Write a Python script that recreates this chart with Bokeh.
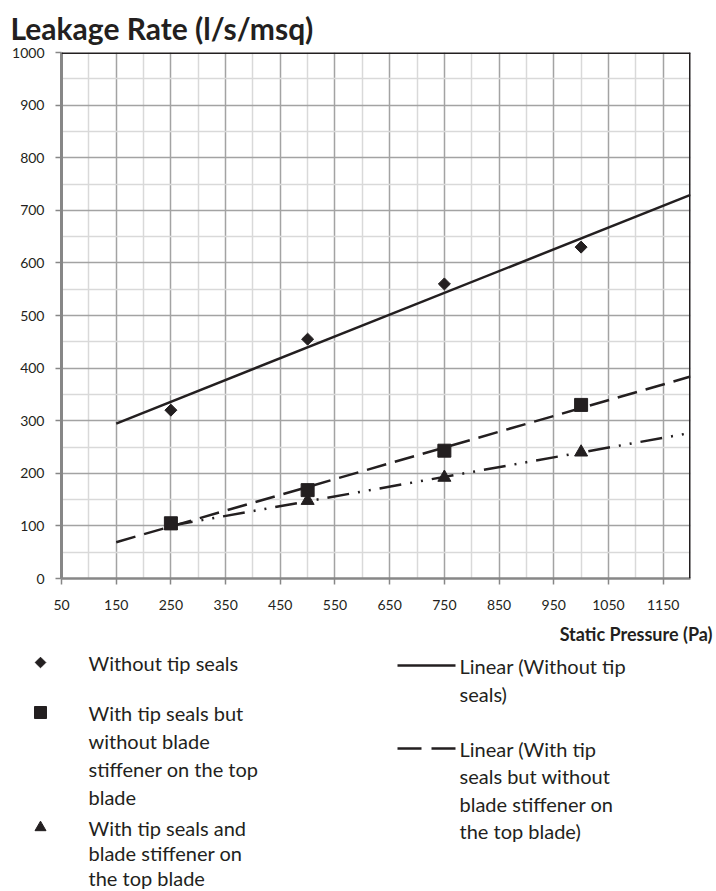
import numpy as np
from bokeh.plotting import figure
from bokeh.models import FixedTicker, Range1d, Span
from bokeh.embed import file_html
from bokeh.resources import INLINE
from bokeh.core.properties import value

# ---------------- data ----------------
pressure = [250, 500, 750, 1000]
without_tip_seals = [320, 455, 560, 630]
tip_seals_no_stiffener = [105, 168, 243, 330]
tip_seals_with_stiffener = [100, 148, 192, 240]

trend_start = [150, 150, 250]   # start of each linear trend (Pa)
trend_end = 1200                 # end of each linear trend (Pa)

x_ticks = [50, 150, 250, 350, 450, 550, 650, 750, 850, 950, 1050, 1150]
x_minor = [100, 200, 300, 400, 500, 600, 700, 800, 900, 1000, 1100, 1200]
y_ticks = [0, 100, 200, 300, 400, 500, 600, 700, 800, 900, 1000]
y_minor = [50, 150, 250, 350, 450, 550, 650, 750, 850, 950]

title_text = "Leakage Rate (l/s/msq)"
x_title = "Static Pressure (Pa)"
legend_points = [
    ["Without tip seals"],
    ["With tip seals but", "without blade", "stiffener on the top", "blade"],
    ["With tip seals and", "blade stiffener on", "the top blade"],
]
legend_lines = [
    ["Linear (Without tip", "seals)"],
    ["Linear (With tip", "seals but without", "blade stiffener on", "the top blade)"],
]

FONT = "Lato"
INK = "#231f20"
AXIS = "#878787"

# ---------------- main chart ----------------
W = 714
H_MAIN = 620
H_LEG = 269
FR_L, FR_R, FR_T, FR_B = 61, 690, 52, 578

p = figure(width=W, height=H_MAIN, x_range=Range1d(50, 1200), y_range=Range1d(0, 1000),
           output_backend="svg", toolbar_location=None,
           min_border_left=FR_L, min_border_right=W - FR_R,
           min_border_top=FR_T, min_border_bottom=H_MAIN - FR_B)
p.outline_line_color = None

p.title.text = title_text
p.title.text_font = FONT
p.title.text_font_size = "30px"
p.title.text_font_style = "bold"
p.title.text_color = INK
p.title.align = "left"
p.title.offset = -51
p.title.standoff = 13

p.xaxis.ticker = FixedTicker(ticks=x_ticks, minor_ticks=x_minor)
p.yaxis.ticker = FixedTicker(ticks=y_ticks, minor_ticks=y_minor)

for ax in (p.xaxis, p.yaxis):
    ax.axis_line_color = AXIS
    ax.major_tick_line_color = AXIS
    ax.major_tick_line_width = 1.5
    ax.major_tick_in = 0
    ax.major_tick_out = 6
    ax.minor_tick_line_color = None
    ax.major_label_text_font = FONT
    ax.major_label_text_font_size = "14px"
    ax.major_label_text_color = INK
p.yaxis.axis_line_width = 3
p.xaxis.axis_line_width = 2.5
p.yaxis.major_label_standoff = 11
p.xaxis.major_label_standoff = 15

for g in (p.xgrid, p.ygrid):
    g.grid_line_color = "#a3a3a3"
    g.grid_line_width = 1.5
    g.minor_grid_line_color = "#d9d9d9"
    g.minor_grid_line_width = 1.5

p.add_layout(Span(location=1000, dimension="width", line_color=INK, line_width=3))
p.add_layout(Span(location=1200, dimension="height", line_color=INK, line_width=3))

series = [without_tip_seals, tip_seals_no_stiffener, tip_seals_with_stiffener]
dashes = ["solid", "20 9", "22 9 2 9 2 9"]
for vals, start, dash in zip(series, trend_start, dashes):
    k, b = np.polyfit(pressure, vals, 1)
    xs = [start, trend_end]
    ys = [k * start + b, k * trend_end + b]
    p.line(xs, ys, line_color=INK, line_width=2.5, line_dash=dash)

p.scatter(pressure, without_tip_seals, marker="square", angle=np.pi / 4, size=8.5,
          fill_color=INK, line_color=INK)
p.scatter(pressure, tip_seals_no_stiffener, marker="square", size=13,
          fill_color=INK, line_color=INK)
p.scatter(pressure, tip_seals_with_stiffener, marker="triangle", size=13,
          fill_color=INK, line_color=INK)

# ---------------- legend panel (pixel coordinates, y downwards) ----------------
leg = figure(width=W, height=H_LEG, x_range=Range1d(0, W), y_range=Range1d(H_LEG, 0),
             output_backend="svg", toolbar_location=None, min_border=0)
leg.axis.visible = False
leg.grid.visible = False
leg.outline_line_color = None

OY = H_MAIN  # page y of the legend panel top


def txt(xs, ys, texts, size="20px", style="normal", align="left"):
    leg.text(x=xs, y=[y - OY for y in ys], text=texts, text_font=value(FONT),
             text_font_size=size, text_font_style=style, text_align=align,
             text_baseline="middle", text_color=INK)


txt([712], [633], [x_title], size="18px", style="bold", align="right")

pt_rows = [[662], [712, 740, 768, 796], [827, 852, 877]]
markers = [("square", np.pi / 4, 7.5), ("square", 0, 12), ("triangle", 0, 11)]
for lines, rows, (mk, ang, sz) in zip(legend_points, pt_rows, markers):
    leg.scatter([40], [rows[0] - OY], marker=mk, angle=ang, size=sz,
                fill_color=INK, line_color=INK)
    txt([88] * len(lines), rows, lines)

ln_rows = [[665, 693], [748, 775, 803, 830]]
ln_dash = ["solid", "24 10"]
for lines, rows, dash in zip(legend_lines, ln_rows, ln_dash):
    leg.line([397, 455], [rows[0] - OY] * 2, line_color=INK, line_width=2.5, line_dash=dash)
    txt([459] * len(lines), rows, lines)

open("out.html", "w").write(file_html([p, leg], INLINE))
